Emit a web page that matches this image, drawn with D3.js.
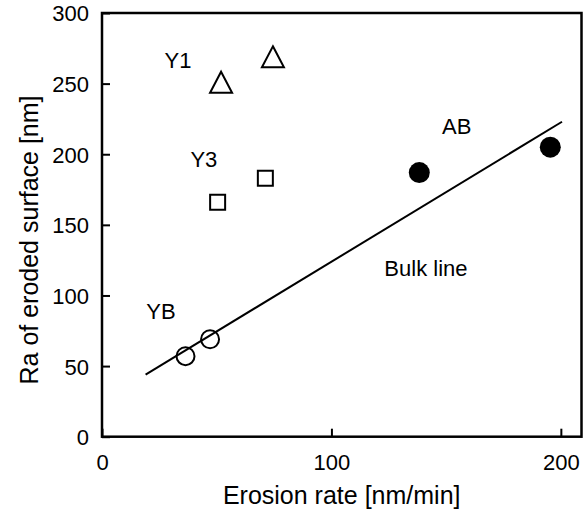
<!DOCTYPE html>
<html lang="en">
<head>
    <meta charset="UTF-8">
    <title>Ra vs erosion rate</title>
    <style>
        body { margin: 0; background: #fff; }
        text { font-family: "Liberation Sans", Arial, sans-serif; fill: #000; }
    </style>
</head>
<body>
    <svg id="vis"></svg>
    <script src="https://d3js.org/d3.v7.min.js"></script>
    <script>
        // Data
        const xTicks = [0, 100, 200]
        const yTicks = [0, 50, 100, 150, 200, 250, 300]

        const y1Points = [{ x: 51.9, y: 251 }, { x: 74.5, y: 269 }]   // triangles
        const y3Points = [{ x: 50.4, y: 166 }, { x: 71.2, y: 183 }]   // squares
        const ybPoints = [{ x: 36.4, y: 57 }, { x: 47.1, y: 69 }]     // open circles
        const abPoints = [{ x: 138.3, y: 187 }, { x: 195.4, y: 205 }] // filled circles
        const bulkLine = [{ x: 19, y: 44 }, { x: 200.5, y: 223 }]

        const labels = [
            { text: 'Y1', x: 33.1, y: 261 },
            { text: 'Y3', x: 44.4, y: 191 },
            { text: 'YB', x: 25.7, y: 83.5 },
            { text: 'AB', x: 154.6, y: 214 },
            { text: 'Bulk line', x: 141.2, y: 114 }
        ]

        // Layout
        const width = 585
        const height = 512
        const margin = { top: 13, right: 3.5, bottom: 75.3, left: 102 }
        const tickFont = 22
        const titleFont = 25

        const svg = d3.select('#vis')
            .attr('width', width)
            .attr('height', height)

        const x = d3.scaleLinear().domain([0, 209]).range([margin.left, width - margin.right])
        const y = d3.scaleLinear().domain([0, 300]).range([height - margin.bottom, margin.top])

        // Axes (ticks point inward)
        svg.append('g')
            .attr('transform', `translate(0,${height - margin.bottom})`)
            .call(d3.axisBottom(x).tickValues(xTicks).tickSizeInner(-8).tickSizeOuter(0).tickPadding(18))
            .call(g => g.select('.domain').remove())
            .call(g => g.selectAll('line').attr('stroke-width', 2))
            .call(g => g.selectAll('text').attr('font-size', tickFont).attr('font-family', null))

        svg.append('g')
            .attr('transform', `translate(${margin.left},0)`)
            .call(d3.axisLeft(y).tickValues(yTicks).tickSizeInner(-8).tickSizeOuter(0).tickPadding(13))
            .call(g => g.select('.domain').remove())
            .call(g => g.selectAll('line').attr('stroke-width', 2))
            .call(g => g.selectAll('text').attr('font-size', tickFont).attr('font-family', null).attr('dy', '0.36em'))

        // Frame
        svg.append('rect')
            .attr('x', x(0))
            .attr('y', y(300))
            .attr('width', x(209) - x(0))
            .attr('height', y(0) - y(300))
            .attr('fill', 'none')
            .attr('stroke', '#000')
            .attr('stroke-width', 2.5)

        // Bulk line
        svg.append('path')
            .datum(bulkLine)
            .attr('d', d3.line().x(d => x(d.x)).y(d => y(d.y)))
            .attr('fill', 'none')
            .attr('stroke', '#000')
            .attr('stroke-width', 2)

        // Markers
        svg.selectAll('.tri')
            .data(y1Points)
            .join('path')
            .attr('class', 'tri')
            .attr('transform', d => `translate(${x(d.x)},${y(d.y)})`)
            .attr('d', 'M0,-10.5L11,10.5L-11,10.5Z')
            .attr('fill', 'none')
            .attr('stroke', '#000')
            .attr('stroke-width', 2)

        svg.selectAll('.sq')
            .data(y3Points)
            .join('rect')
            .attr('class', 'sq')
            .attr('x', d => x(d.x) - 7.5)
            .attr('y', d => y(d.y) - 7.5)
            .attr('width', 15)
            .attr('height', 15)
            .attr('fill', 'none')
            .attr('stroke', '#000')
            .attr('stroke-width', 2)

        svg.selectAll('.yb')
            .data(ybPoints)
            .join('circle')
            .attr('class', 'yb')
            .attr('cx', d => x(d.x))
            .attr('cy', d => y(d.y))
            .attr('r', 9)
            .attr('fill', 'none')
            .attr('stroke', '#000')
            .attr('stroke-width', 2)

        svg.selectAll('.ab')
            .data(abPoints)
            .join('circle')
            .attr('class', 'ab')
            .attr('cx', d => x(d.x))
            .attr('cy', d => y(d.y))
            .attr('r', 10.5)
            .attr('fill', '#000')

        // Annotations
        svg.selectAll('.lbl')
            .data(labels)
            .join('text')
            .attr('class', 'lbl')
            .attr('x', d => x(d.x))
            .attr('y', d => y(d.y))
            .attr('text-anchor', 'middle')
            .attr('font-size', tickFont)
            .text(d => d.text)

        // Axis titles
        svg.append('text')
            .attr('x', 341.7)
            .attr('y', 504)
            .attr('text-anchor', 'middle')
            .attr('font-size', titleFont)
            .text('Erosion rate [nm/min]')

        svg.append('text')
            .attr('transform', 'translate(38,240) rotate(-90)')
            .attr('text-anchor', 'middle')
            .attr('font-size', titleFont)
            .text('Ra of eroded surface [nm]')
    </script>
</body>
</html>
